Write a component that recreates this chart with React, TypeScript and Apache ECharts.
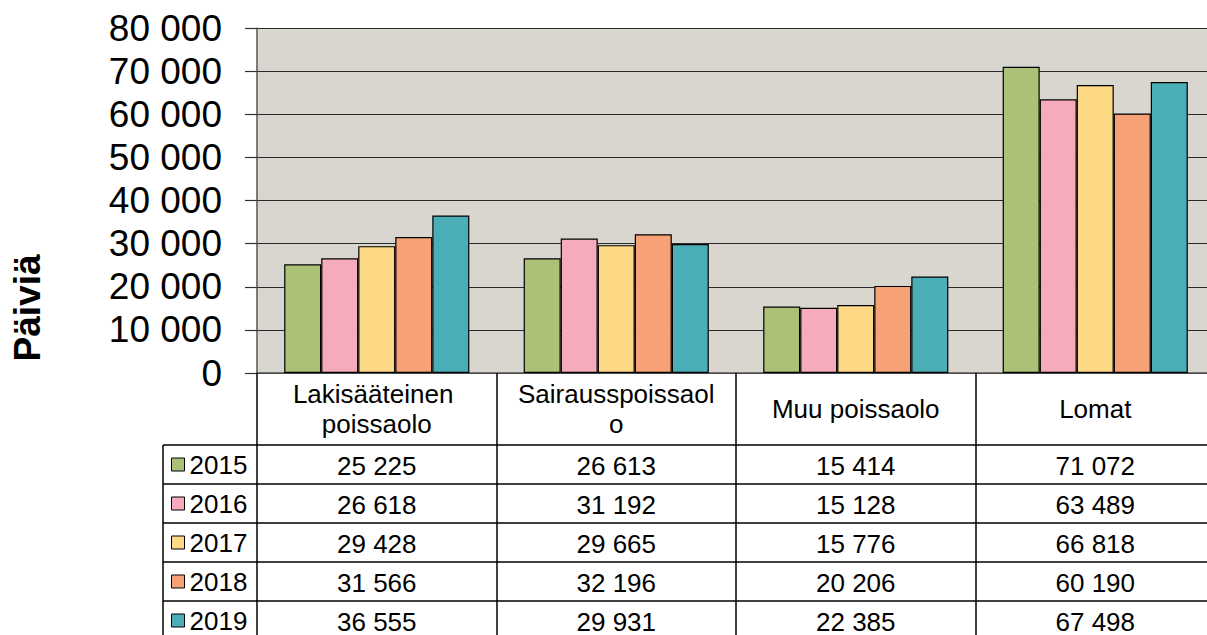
import React, { useEffect, useRef } from "react";
import * as echarts from "echarts";

const categories = ["Lakisääteinen poissaolo", "Sairausspoissaolo", "Muu poissaolo", "Lomat"];
const years = ["2015", "2016", "2017", "2018", "2019"];
const v2015 = [25225, 26613, 15414, 71072];
const v2016 = [26618, 31192, 15128, 63489];
const v2017 = [29428, 29665, 15776, 66818];
const v2018 = [31566, 32196, 20206, 60190];
const v2019 = [36555, 29931, 22385, 67498];
const seriesValues = [v2015, v2016, v2017, v2018, v2019];
const colors = ["#ACC178", "#F5ABBC", "#FDD885", "#F7A176", "#4BADB5"];
const yMin = 0;
const yMax = 80000;
const yInterval = 10000;
const yTitle = "Päiviä";

const FONT = "'Liberation Sans', Arial, Helvetica, sans-serif";
const fmt = (v: number) => String(v).replace(/\B(?=(\d{3})+(?!\d))/g, " ");

const GRID_LEFT = 257;
const GRID_TOP = 28.2;
const GRID_H = 344.8;
const GRID_W = 958;
const HEADER_H = 72;
const ROW_H = 39;
const ROWHEAD_LEFT = 163;

export default function App() {
  const ref = useRef<HTMLDivElement>(null);
  useEffect(() => {
    if (!ref.current) return;
    const chart = echarts.init(ref.current, undefined, { renderer: "svg" });
    const tableTop = GRID_TOP + GRID_H;
    const extraAxes = seriesValues.map((vals, k) => ({
      type: "category",
      gridIndex: 0,
      position: "bottom",
      offset: HEADER_H + ROW_H * k,
      data: vals.map(fmt),
      axisLine: { show: true, lineStyle: { color: "#000", width: 1.5 } },
      axisTick: { show: true, length: ROW_H, lineStyle: { color: "#000", width: 1.5 } },
      axisLabel: {
        interval: 0,
        fontSize: 26,
        fontFamily: FONT,
        color: "#000",
        verticalAlign: "middle",
        margin: ROW_H / 2 + 1,
      },
      splitLine: { show: false },
    }));
    const rowLines: any[] = [];
    for (let k = 0; k < years.length; k++) {
      const y = tableTop + HEADER_H + ROW_H * k;
      rowLines.push({
        type: "line",
        shape: { x1: ROWHEAD_LEFT, y1: y, x2: GRID_LEFT, y2: y },
        style: { stroke: "#000", lineWidth: 1.5 },
      });
    }
    rowLines.push({
      type: "line",
      shape: { x1: ROWHEAD_LEFT, y1: tableTop + HEADER_H, x2: ROWHEAD_LEFT, y2: 700 },
      style: { stroke: "#000", lineWidth: 1.5 },
    });
    chart.setOption({
      animation: false,
      textStyle: { fontFamily: FONT },
      color: colors,
      grid: {
        left: GRID_LEFT,
        top: GRID_TOP,
        width: GRID_W,
        height: GRID_H,
        show: true,
        backgroundColor: "#D9D6CF",
        borderWidth: 0,
        containLabel: false,
      },
      legend: {
        orient: "vertical",
        left: 171,
        top: tableTop + HEADER_H + ROW_H / 2 - 13,
        padding: 0,
        itemWidth: 13,
        itemHeight: 13,
        itemGap: 13,
        itemTextGap: 5,
        icon: "rect",
        data: years,
        textStyle: { fontSize: 26, lineHeight: 26, color: "#000", fontFamily: FONT },
        itemStyle: { borderColor: "#000", borderWidth: 1 },
      },
      xAxis: [
        {
          type: "category",
          data: categories,
          position: "bottom",
          axisLine: { show: true, lineStyle: { color: "#555", width: 1.5 } },
          axisTick: { show: true, length: HEADER_H, lineStyle: { color: "#000", width: 1.5 } },
          axisLabel: {
            interval: 0,
            fontSize: 26,
            lineHeight: 30,
            fontFamily: FONT,
            color: "#000",
            width: 205,
            overflow: "break",
            verticalAlign: "middle",
            margin: 36,
          },
          splitLine: { show: false },
        },
        ...extraAxes,
      ],
      yAxis: {
        type: "value",
        min: yMin,
        max: yMax,
        interval: yInterval,
        axisLine: { show: true, lineStyle: { color: "#555", width: 1.5 } },
        axisTick: { show: true, length: 12, lineStyle: { color: "#333", width: 1.2 } },
        axisLabel: {
          fontSize: 37,
          fontFamily: FONT,
          color: "#000",
          margin: 35,
          formatter: (v: number) => fmt(v),
        },
        splitLine: { show: true, lineStyle: { color: "#2A2A2A", width: 1.2 } },
      },
      series: years.map((yr, i) => ({
        name: yr,
        type: "bar",
        xAxisIndex: 0,
        data: seriesValues[i],
        barGap: "0%",
        barCategoryGap: "22.7%",
        itemStyle: { color: colors[i], borderColor: "#000", borderWidth: 1.2 },
      })),
      graphic: [
        {
          type: "text",
          x: 27,
          y: 308,
          rotation: Math.PI / 2,
          style: {
            text: yTitle,
            fontSize: 37,
            fontWeight: "bold",
            fontFamily: FONT,
            fill: "#000",
            align: "center",
            verticalAlign: "middle",
          },
        },
        ...rowLines,
      ],
    });
    return () => chart.dispose();
  }, []);
  return (
    <div
      style={{
        position: "fixed",
        left: 0,
        top: 0,
        width: 1207,
        height: 635,
        overflow: "hidden",
        background: "#fff",
      }}
    >
      <div ref={ref} style={{ width: 1240, height: 635 }} />
    </div>
  );
}
